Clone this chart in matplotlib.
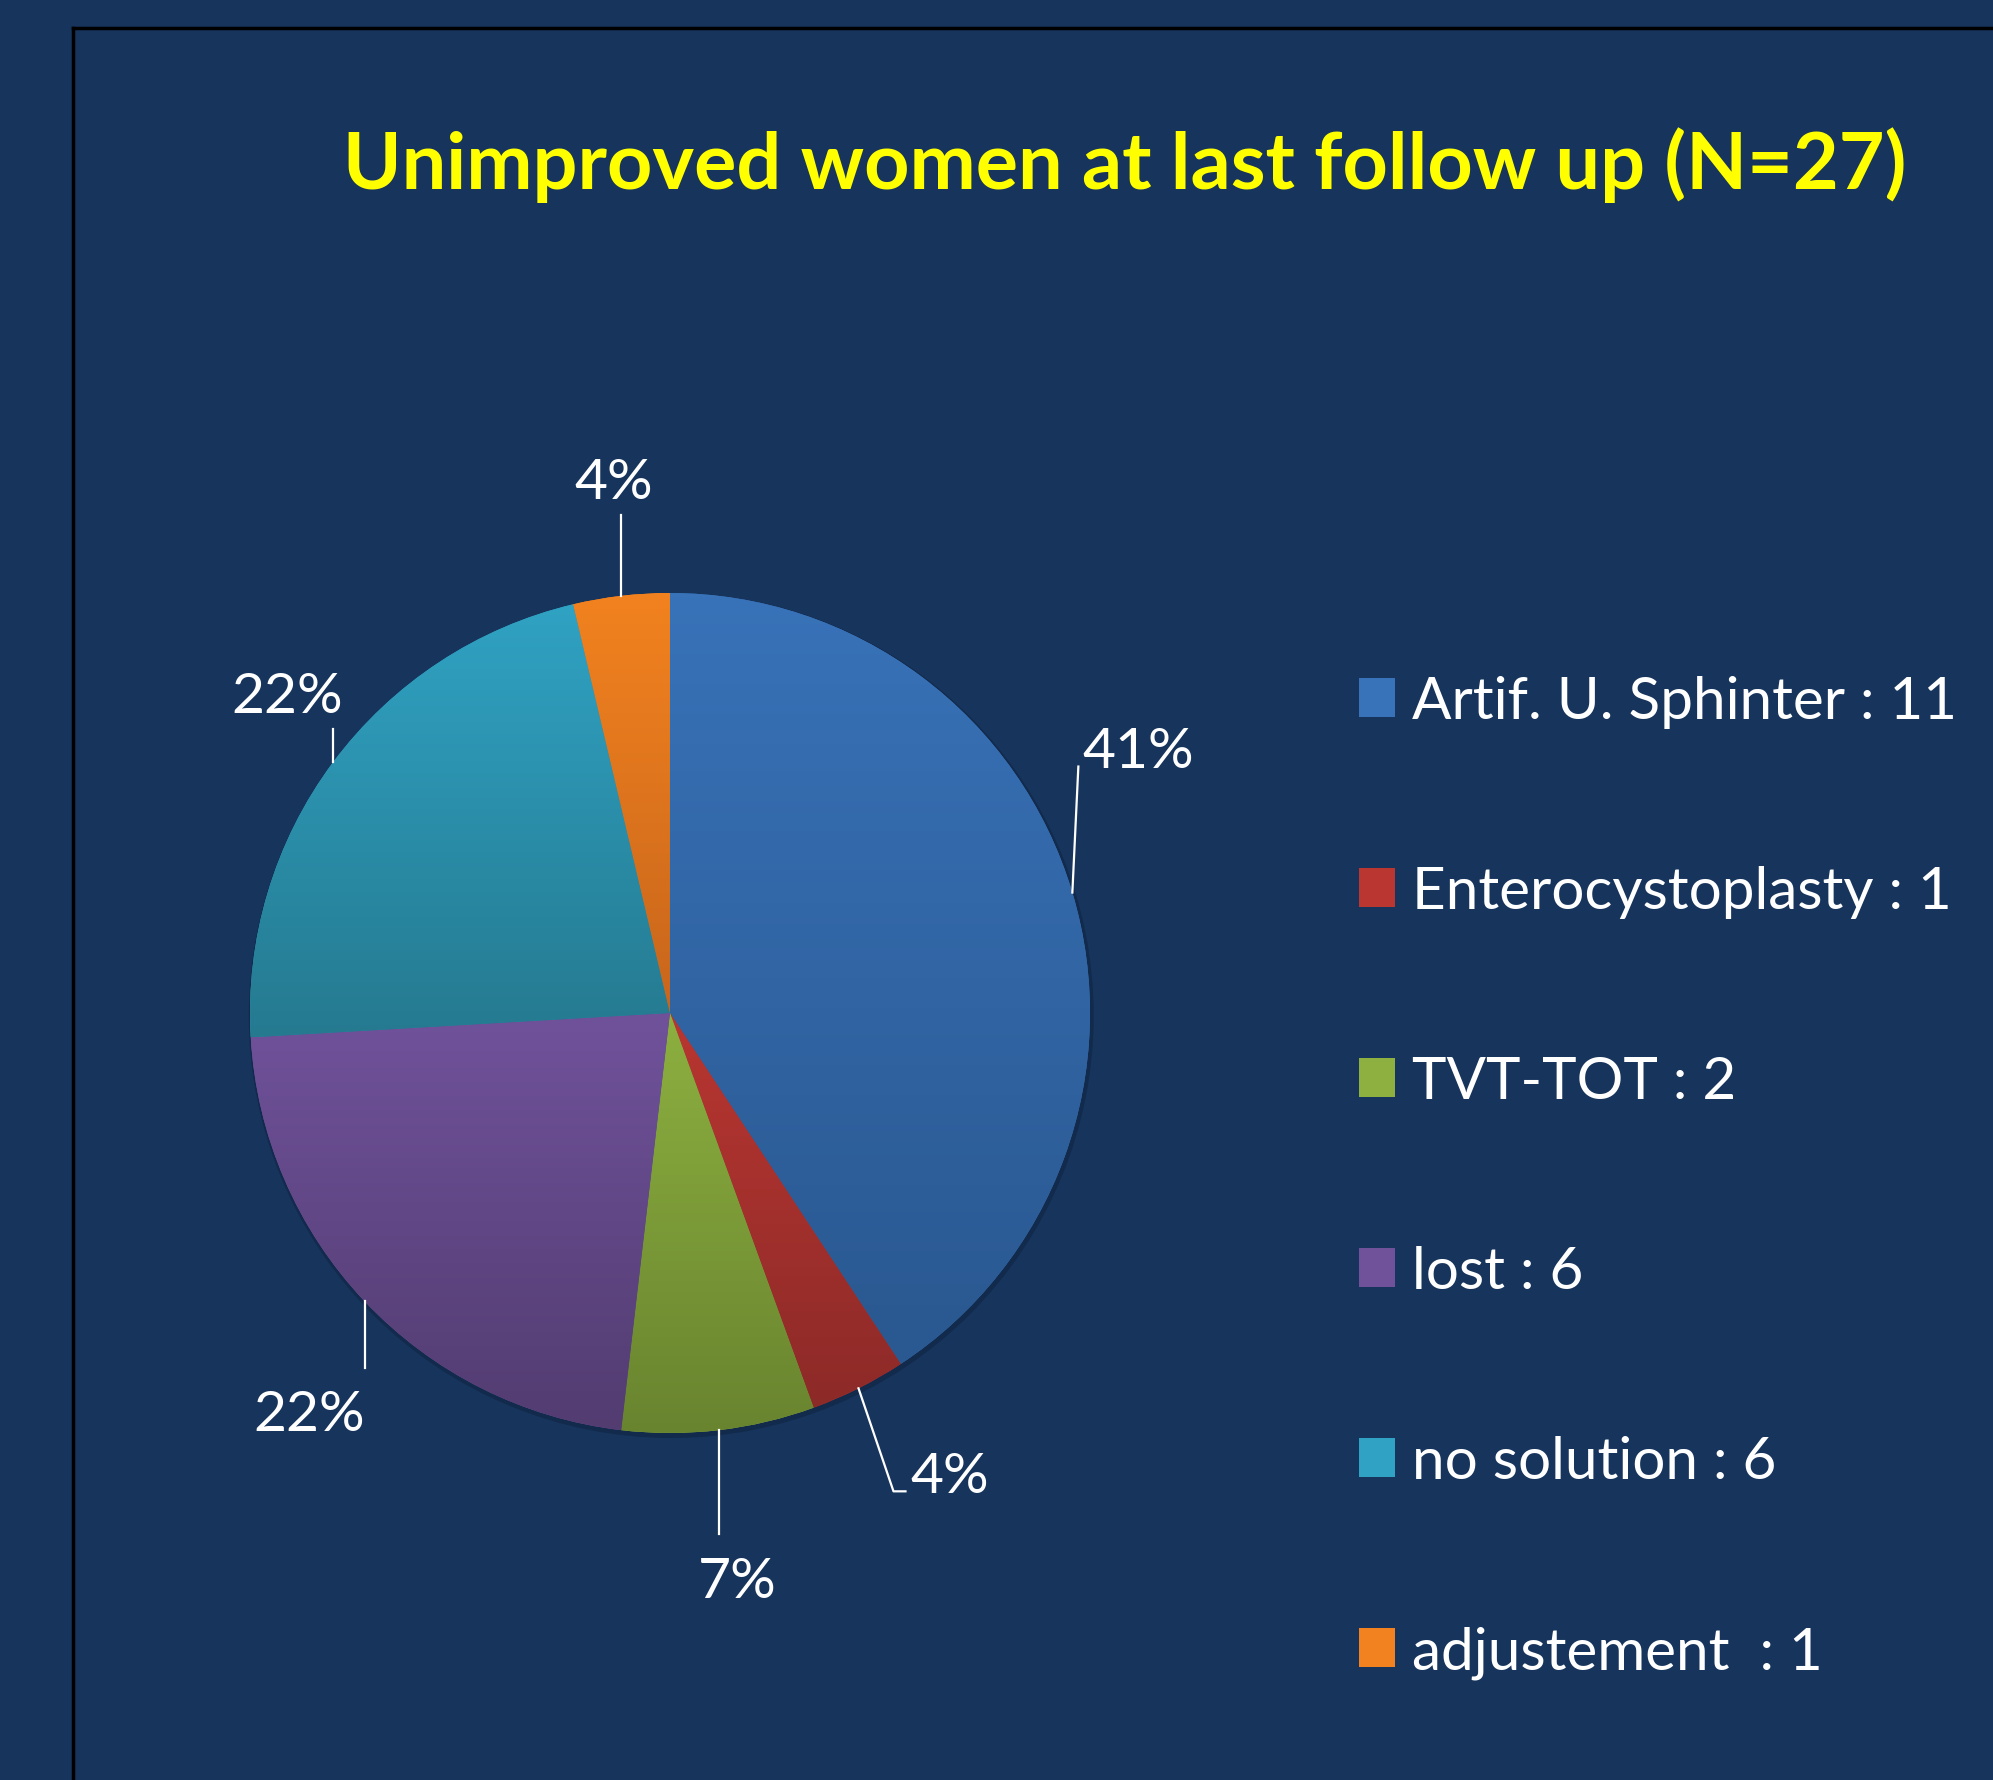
import numpy as np
import matplotlib
matplotlib.use('Agg')
import matplotlib.pyplot as plt
from matplotlib.colors import LinearSegmentedColormap
from matplotlib.patches import Patch, Circle
from matplotlib.lines import Line2D

# data
categories = ['Artif. U. Sphinter', 'Enterocystoplasty', 'TVT-TOT', 'lost', 'no solution', 'adjustement ']
counts = [11, 1, 2, 6, 6, 1]
title = 'Unimproved women at last follow up (N=27)'

# slice shading, lighter at top of each slice, darker at bottom
top_colors = ['#3872B8', '#B93631', '#8DB040', '#70529B', '#30A2C3', '#F2821F']
bottom_colors = ['#2A5890', '#8C2A28', '#69842F', '#523C70', '#257A90', '#C8661C']

# leader lines / label placement in pixels relative to slice edge point
# (line segments as list of (dx, dy)), text pos, ha
label_layout = [
    ([(0, 0), (6, 126)], (10, 146), 'left'),
    ([(0, 0), (35, -103), (47, -103)], (52, -83), 'left'),
    ([(0, 0), (0, -104)], (18, -146), 'center'),
    ([(0, 0), (0, -67)], (0, -108), 'right'),
    ([(0, 0), (0, 33)], (10, 71), 'right'),
    ([(0, 0), (0, 81)], (-8, 118), 'center'),
]

BG = '#17345C'
W, H = 1993, 1781
R_PX = 420.0
CX, CY = 670, 1014
HALF = 600

plt.rcParams['font.family'] = ['Lato', 'DejaVu Sans']

fig = plt.figure(figsize=(W / 100, H / 100), dpi=100)
fig.patch.set_facecolor(BG)

ax = fig.add_axes([(CX - HALF) / W, (H - CY - HALF) / H, 2 * HALF / W, 2 * HALF / H])
ax.set_facecolor(BG)
lim = HALF / R_PX

# faint shadow under the pie
ax.add_patch(Circle((0.003, -0.006), 1.006, facecolor='#0D1F3A', edgecolor='none',
                    alpha=0.45, zorder=0))

wedges, _ = ax.pie(counts, startangle=90, counterclock=False, radius=1,
                   colors=top_colors, wedgeprops=dict(linewidth=0))

# vertical gradient inside each wedge
grad = np.linspace(0, 1, 256).reshape(-1, 1)
for w, c0, c1 in zip(wedges, top_colors, bottom_colors):
    ext = w.get_path().get_extents()
    cmap = LinearSegmentedColormap.from_list('g', [c0, c1])
    im = ax.imshow(grad, cmap=cmap, extent=[ext.x0, ext.x1, ext.y0, ext.y1],
                   aspect='auto', origin='upper', zorder=2, interpolation='bilinear')
    im.set_clip_path(w)

ax.set_xlim(-lim, lim)
ax.set_ylim(-lim, lim)
ax.set_aspect('equal')
ax.axis('off')

# percentage labels with leader lines
total = sum(counts)
for w, n, (seg, tpos, ha) in zip(wedges, counts, label_layout):
    mid = np.deg2rad((w.theta1 + w.theta2) / 2)
    ex, ey = np.cos(mid), np.sin(mid)
    xs = [ex + dx / R_PX for dx, dy in seg]
    ys = [ey + dy / R_PX for dx, dy in seg]
    ax.plot(xs, ys, color='white', lw=1.6, clip_on=False, zorder=3)
    pct = '%d%%' % round(100 * n / total)
    ax.text(ex + tpos[0] / R_PX, ey + tpos[1] / R_PX, pct, color='white',
            fontsize=41, ha=ha, va='center_baseline', clip_on=False)

# title
fig.text(1125 / W, 1 - 165 / H, title, color='#FFFF00', fontsize=57,
         fontweight='bold', ha='center', va='center')

# legend
handles = [Patch(facecolor=c, edgecolor='none') for c in top_colors]
labels = ['%s : %d' % (c, n) for c, n in zip(categories, counts)]
leg = fig.legend(handles, labels, loc='upper left', bbox_to_anchor=(1359 / W, 1 - 676 / H),
                 frameon=False, fontsize=42, borderpad=0, borderaxespad=0,
                 handlelength=0.62, handleheight=0.65, handletextpad=0.29,
                 labelspacing=2.35)
for t in leg.get_texts():
    t.set_color('white')

# slide frame
fig.add_artist(Line2D([73 / W, 73 / W], [0, 1 - 29 / H], color='black', lw=2.5))
fig.add_artist(Line2D([73 / W, 1], [1 - 29 / H, 1 - 29 / H], color='black', lw=2.5))

fig.savefig('out.png', dpi=100, facecolor=BG)
